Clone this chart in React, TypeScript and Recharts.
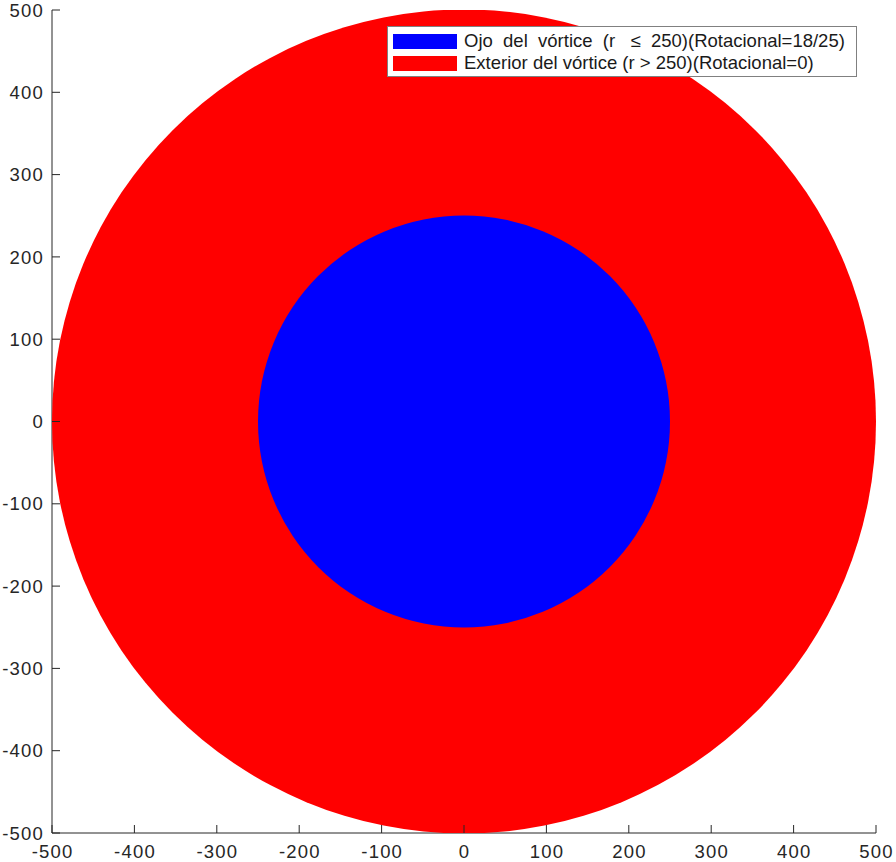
import { ScatterChart, Scatter, XAxis, YAxis, Legend } from 'recharts';

// axis ticks (same on both axes)
const axisTicks = [-500, -400, -300, -200, -100, 0, 100, 200, 300, 400, 500];

// regions of the vortex, drawn big to small
const zoneNames = [
  'Exterior del vórtice (r > 250)(Rotacional=0)',
  'Ojo  del  vórtice  (r   ≤  250)(Rotacional=18/25)',
];
const zoneCenterX = [0, 0];
const zoneCenterY = [0, 0];
const zoneRadius = [500, 250];

const zoneColors = ['#ff0000', '#0000ff'];

const W = 896;
const H = 862;
const MARGIN = { top: 10, right: 20, left: 0, bottom: 0 };
const Y_AXIS_W = 52;
const X_AXIS_H = 29;
const PLOT_W = W - MARGIN.left - MARGIN.right - Y_AXIS_W;
const PX_PER_UNIT = PLOT_W / (axisTicks[axisTicks.length - 1] - axisTicks[0]);

const FONT = '"Liberation Sans", Arial, Helvetica, sans-serif';
const INK = '#262626';
const TICK_LEN = 8;
const Y_GAP = 9;
const X_GAP = 12;

function Disc(props: any) {
  const { cx, cy, payload, color } = props;
  return <circle cx={cx} cy={cy} r={payload.r * PX_PER_UNIT} fill={color} />;
}

function YTick(props: any) {
  const { x, y, payload } = props;
  const ax = x + Y_GAP;
  return (
    <g>
      <line x1={ax} x2={ax + TICK_LEN} y1={y} y2={y} stroke={INK} strokeWidth={1} />
      <text
        x={x + 1}
        y={y}
        dy="0.36em"
        textAnchor="end"
        fill={INK}
        fontSize={18.5}
        letterSpacing={1.2}
        fontFamily={FONT}
      >
        {payload.value}
      </text>
    </g>
  );
}

function XTick(props: any) {
  const { x, y, payload } = props;
  const ay = y - X_GAP;
  return (
    <g>
      <line x1={x} x2={x} y1={ay} y2={ay - TICK_LEN} stroke={INK} strokeWidth={1} />
      <text
        x={x + 0.6}
        y={y}
        dy="0.72em"
        textAnchor="middle"
        fill={INK}
        fontSize={18.5}
        letterSpacing={1.2}
        fontFamily={FONT}
      >
        {payload.value}
      </text>
    </g>
  );
}

function LegendBox(props: any) {
  const items = [...(props.payload || [])].reverse();
  return (
    <div
      style={{
        boxSizing: 'border-box',
        width: 470,
        height: 51,
        border: '1px solid #808080',
        background: '#fff',
        padding: '3px 0 2px 5px',
        fontFamily: FONT,
        fontSize: 18.5,
        color: '#1a1a1a',
      }}
    >
      {items.map((it: any) => (
        <div key={it.value} style={{ display: 'flex', alignItems: 'center', height: 22 }}>
          <span style={{ display: 'inline-block', width: 64, height: 15, background: it.color, marginRight: 7 }} />
          <span style={{ whiteSpace: 'pre', lineHeight: '22px' }}>{it.value}</span>
        </div>
      ))}
    </div>
  );
}

export default function App() {
  return (
    <div style={{ position: 'absolute', left: 0, top: 0, background: '#fff' }}>
      <ScatterChart width={W} height={H} margin={MARGIN}>
        <XAxis
          type="number"
          dataKey="x"
          domain={[axisTicks[0], axisTicks[axisTicks.length - 1]]}
          ticks={axisTicks}
          allowDataOverflow
          height={X_AXIS_H}
          tickSize={0}
          tickMargin={X_GAP}
          tickLine={false}
          axisLine={{ stroke: INK }}
          tick={<XTick />}
          interval={0}
        />
        <YAxis
          type="number"
          dataKey="y"
          domain={[axisTicks[0], axisTicks[axisTicks.length - 1]]}
          ticks={axisTicks}
          allowDataOverflow
          width={Y_AXIS_W}
          tickSize={0}
          tickMargin={Y_GAP}
          tickLine={false}
          axisLine={{ stroke: INK }}
          tick={<YTick />}
          interval={0}
        />
        {zoneNames.map((name, i) => (
          <Scatter
            key={name}
            name={name}
            data={[{ x: zoneCenterX[i], y: zoneCenterY[i], r: zoneRadius[i] }]}
            fill={zoneColors[i]}
            isAnimationActive={false}
            shape={(p: any) => <Disc {...p} color={zoneColors[i]} />}
          />
        ))}
        <Legend
          layout="vertical"
          align="center"
          verticalAlign="middle"
          wrapperStyle={{ top: 26, left: 387, width: 470 }}
          content={<LegendBox />}
        />
      </ScatterChart>
    </div>
  );
}
